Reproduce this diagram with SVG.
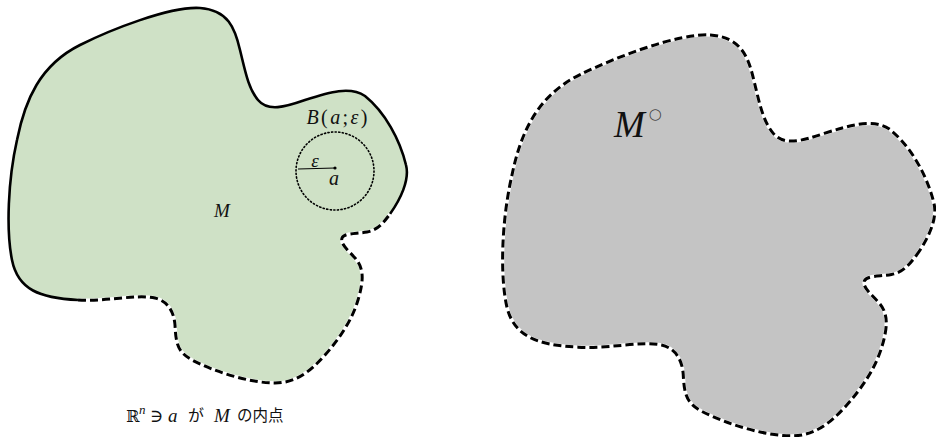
<svg xmlns="http://www.w3.org/2000/svg" width="936" height="437" viewBox="0 0 936 437">
  <style>
    .math { font-family: "Liberation Serif", "DejaVu Serif", serif; font-style: italic; fill: #111; }
    .up { font-family: "Liberation Serif", "DejaVu Serif", serif; font-style: normal; fill: #111; }
    .jp { font-family: "Noto Sans CJK JP", "Noto Sans", sans-serif; fill: #111; }
    .solid { fill: none; stroke: #000; stroke-width: 2.6; stroke-linejoin: round; }
    .halo { fill: none; stroke: #fff; stroke-width: 3.4; }
    .dash { fill: none; stroke: #000; stroke-width: 3; stroke-dasharray: 8 4; }
  </style>

  <!-- Set M with its interior point a and the ball B(a; ε) -->
  <g id="set-M">
    <path fill="#cfe1c6" d="M390 214 C400 200 410 180 406 165 C400 140 385 112 365 96 C350 86 330 92 305 100 C285 107 268 112 258 100 C248 88 245 70 240 50 C235 28 228 10 200 8 C170 6 110 30 80 45 C40 65 25 100 17 140 C8 180 6 230 12 260 C18 290 40 298 78 300 C105 302 135 294 155 298 C168 301 174 312 175 325 C176 345 178 352 192 360 C215 372 250 383 275 383 C295 383 310 372 325 355 C340 338 352 320 358 300 C364 280 364 268 355 258 C348 250 340 244 342 238 C344 233 355 234 367 232 C378 230 384 222 390 214 Z"/>
    <!-- boundary points that belong to M -->
    <path class="solid" d="M390 214 C400 200 410 180 406 165 C400 140 385 112 365 96 C350 86 330 92 305 100 C285 107 268 112 258 100 C248 88 245 70 240 50 C235 28 228 10 200 8 C170 6 110 30 80 45 C40 65 25 100 17 140 C8 180 6 230 12 260 C18 290 40 298 78 300"/>
    <!-- boundary points not in M -->
    <path class="halo" d="M78 300 C105 302 135 294 155 298 C168 301 174 312 175 325 C176 345 178 352 192 360 C215 372 250 383 275 383 C295 383 310 372 325 355 C340 338 352 320 358 300 C364 280 364 268 355 258 C348 250 340 244 342 238 C344 233 355 234 367 232 C378 230 384 222 390 214"/>
    <path class="dash" d="M78 300 C105 302 135 294 155 298 C168 301 174 312 175 325 C176 345 178 352 192 360 C215 372 250 383 275 383 C295 383 310 372 325 355 C340 338 352 320 358 300 C364 280 364 268 355 258 C348 250 340 244 342 238 C344 233 355 234 367 232 C378 230 384 222 390 214"/>
    <text class="math" x="222" y="217" font-size="19" text-anchor="middle">M</text>
  </g>

  <g id="ball">
    <circle cx="335" cy="171" r="39" fill="none" stroke="#000" stroke-width="1.6" stroke-dasharray="1.2 2.4" stroke-linecap="round"/>
    <line x1="298" y1="169" x2="335" y2="168" stroke="#000" stroke-width="1.2"/>
    <circle cx="335" cy="168" r="1.6" fill="#000"/>
    <text x="337" y="124" font-size="20" text-anchor="middle" textLength="61" lengthAdjust="spacing"><tspan class="math">B</tspan><tspan class="up">(</tspan><tspan class="math">a</tspan><tspan class="up">;</tspan><tspan class="math">ε</tspan><tspan class="up">)</tspan></text>
    <text class="math" x="315" y="167" font-size="19" text-anchor="middle">ε</text>
    <text class="math" x="334" y="185" font-size="20" text-anchor="middle">a</text>
  </g>

  <!-- Interior of M -->
  <g id="interior-M">
    <path transform="translate(502,35) scale(1.085,1.069) translate(-8,-8)" fill="#c4c4c4" stroke="#fff" stroke-width="3.4" vector-effect="non-scaling-stroke" d="M390 214 C400 200 410 180 406 165 C400 140 385 112 365 96 C350 86 330 92 305 100 C285 107 268 112 258 100 C248 88 245 70 240 50 C235 28 228 10 200 8 C170 6 110 30 80 45 C40 65 25 100 17 140 C8 180 6 230 12 260 C18 290 40 298 78 300 C105 302 135 294 155 298 C168 301 174 312 175 325 C176 345 178 352 192 360 C215 372 250 383 275 383 C295 383 310 372 325 355 C340 338 352 320 358 300 C364 280 364 268 355 258 C348 250 340 244 342 238 C344 233 355 234 367 232 C378 230 384 222 390 214 Z"/>
    <path transform="translate(502,35) scale(1.085,1.069) translate(-8,-8)" class="dash" vector-effect="non-scaling-stroke" d="M390 214 C400 200 410 180 406 165 C400 140 385 112 365 96 C350 86 330 92 305 100 C285 107 268 112 258 100 C248 88 245 70 240 50 C235 28 228 10 200 8 C170 6 110 30 80 45 C40 65 25 100 17 140 C8 180 6 230 12 260 C18 290 40 298 78 300 C105 302 135 294 155 298 C168 301 174 312 175 325 C176 345 178 352 192 360 C215 372 250 383 275 383 C295 383 310 372 325 355 C340 338 352 320 358 300 C364 280 364 268 355 258 C348 250 340 244 342 238 C344 233 355 234 367 232 C378 230 384 222 390 214 Z"/>
    <text x="614" y="137"><tspan class="math" font-size="37">M</tspan><tspan font-family="DejaVu Sans, sans-serif" font-size="15" fill="#444" dx="4" dy="-18">○</tspan></text>
  </g>

  <!-- Caption -->
  <g id="caption">
    <text class="up" x="126" y="422" font-size="16" font-family="DejaVu Serif, serif">ℝ</text>
    <text class="math" x="139" y="414" font-size="13">n</text>
    <text class="up" x="150" y="422" font-size="18" font-family="DejaVu Serif, serif">∋</text>
    <text class="math" x="168" y="422" font-size="19">a</text>
    <text class="jp" x="188" y="421" font-size="16">が</text>
    <text class="math" x="214" y="422" font-size="19">M</text>
    <text class="jp" x="237" y="421" font-size="15.5">の内点</text>
  </g>
</svg>
